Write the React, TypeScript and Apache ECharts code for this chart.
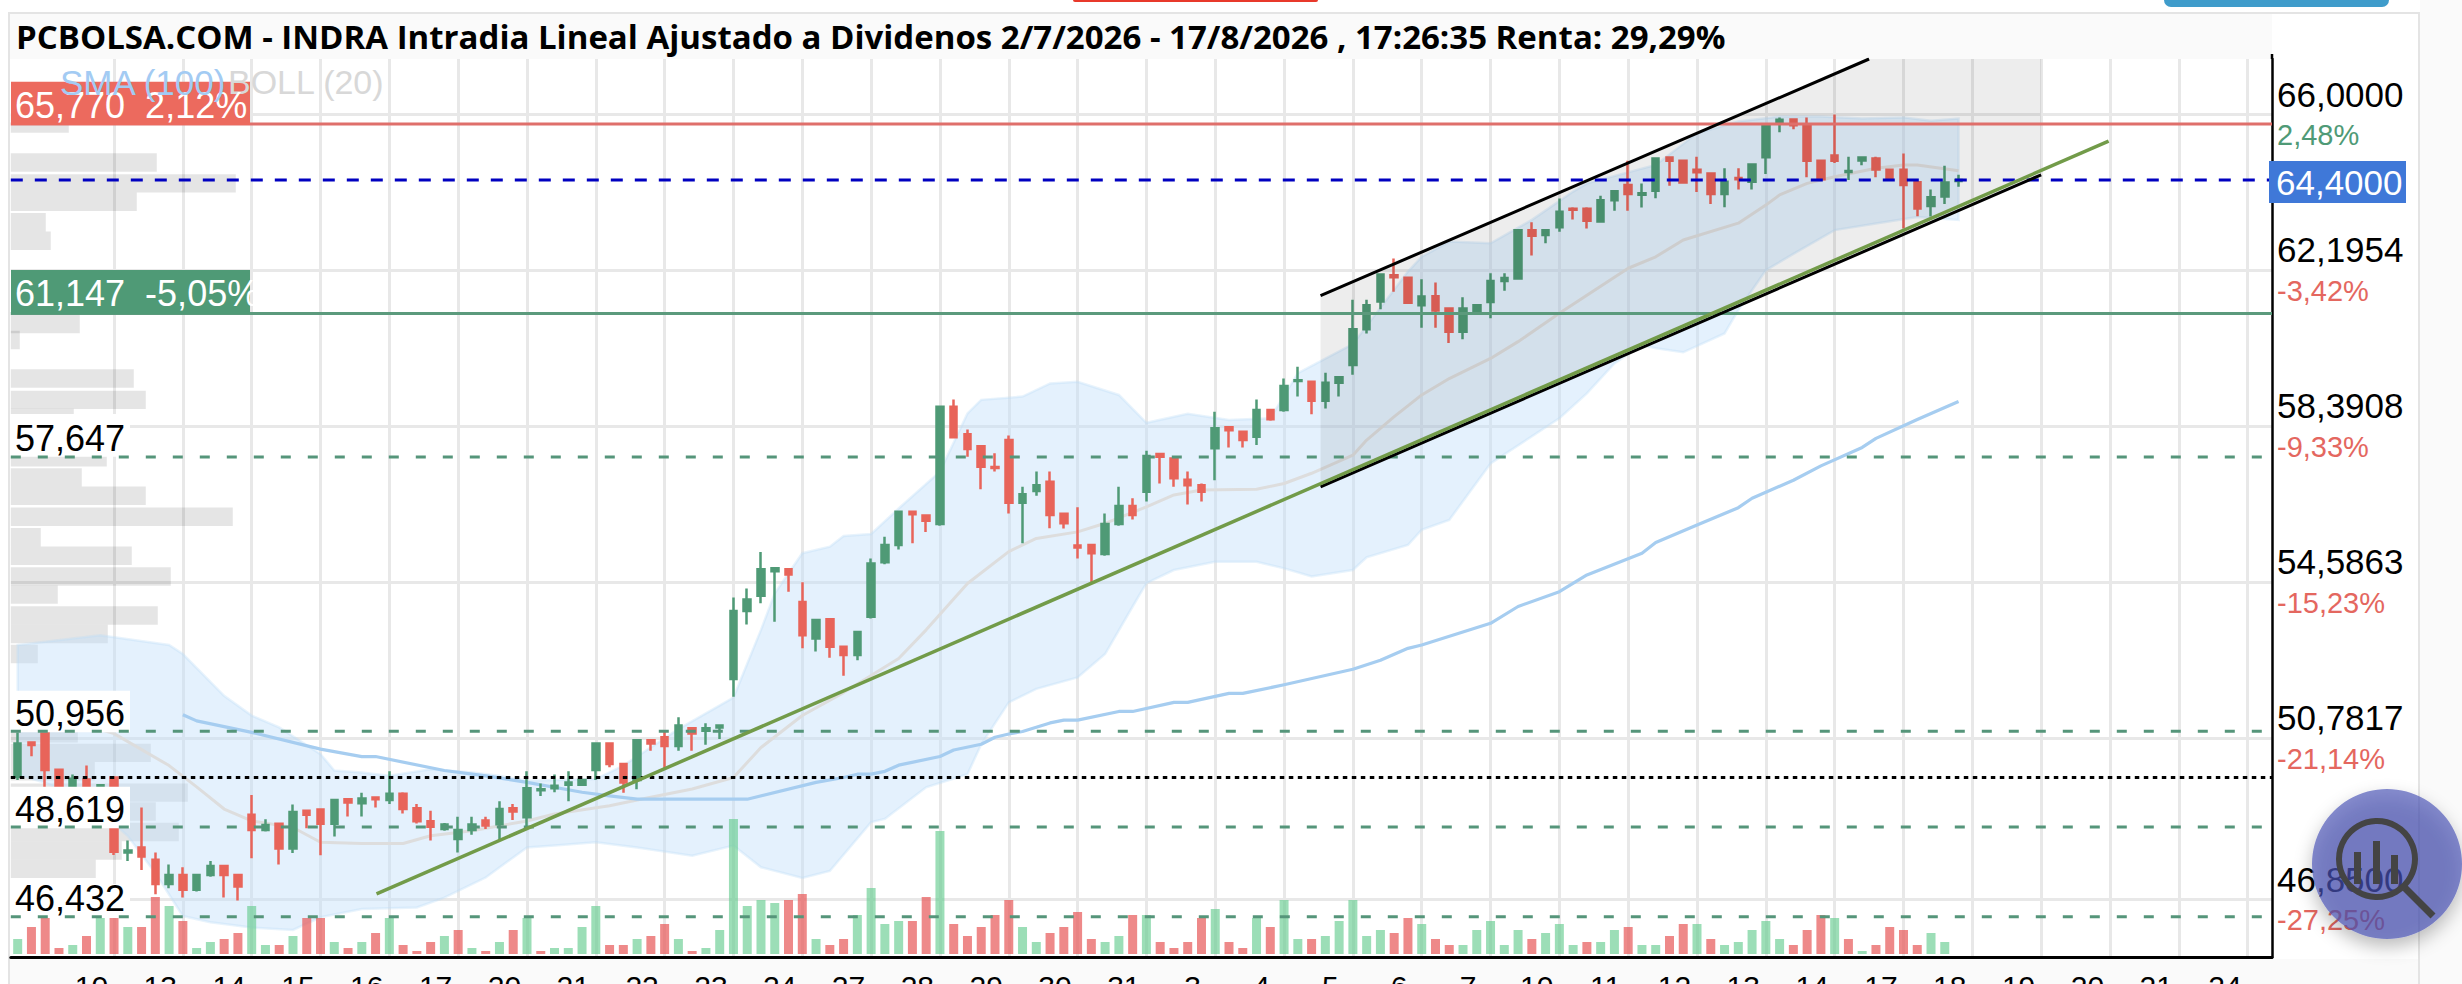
import React, { useEffect, useRef } from "react";
import * as echarts from "echarts";

const titleText = "PCBOLSA.COM - INDRA Intradia Lineal Ajustado a Dividenos 2/7/2026 - 17/8/2026 , 17:26:35 Renta: 29,29%";
const categoryCount = 164;
const categories = Array.from({ length: categoryCount }, (_, i) => String(i));
const opens = [49.85,50.68,50.92,50.02,49.6,49.78,49.62,49.83,48.0,48.12,47.82,47.23,47.45,47.09,47.45,47.67,47.45,48.92,48.55,48.7,48.1,49.02,49.05,48.7,49.3,49.2,49.34,49.28,49.43,49.08,48.76,48.57,48.33,48.55,48.78,48.69,49.08,48.86,49.52,49.57,49.65,49.65,50.01,50.66,50.16,49.77,50.74,50.81,50.6,51.03,50.97,51.05,52.23,53.89,54.26,54.86,54.91,54.11,53.22,53.69,53.02,52.82,53.75,55.08,55.5,56.31,56.22,56.01,58.87,58.2,57.91,57.4,58.06,56.53,56.82,57.04,56.26,55.49,55.5,55.28,56.01,56.45,56.8,57.72,57.61,57.09,56.96,57.86,58.37,58.26,58.14,58.79,58.79,59.5,59.48,59.02,59.46,59.89,60.76,61.44,62.08,62.02,61.35,61.57,61.27,60.7,61.19,61.43,61.94,62.0,63.18,63.06,63.25,63.7,63.7,63.39,63.91,64.28,64.04,64.14,64.95,64.87,64.65,64.56,64.06,64.45,64.36,64.96,65.82,65.88,65.74,64.87,65.0,64.6,64.88,64.93,64.65,64.65,64.35,63.77,64.0,64.38];
const closes = [50.66,50.62,50.01,49.6,49.8,49.6,49.64,48.02,48.05,47.9,47.23,47.45,47.09,47.45,47.67,47.45,47.17,48.55,48.67,48.1,48.99,48.92,48.7,49.28,49.22,49.32,49.3,49.43,49.06,48.76,48.63,48.68,48.55,48.68,48.66,49.06,49.0,49.57,49.54,49.63,49.71,49.77,50.66,50.16,49.71,50.74,50.66,50.6,51.1,50.9,51.03,51.1,53.89,54.17,54.91,54.93,54.78,53.3,53.67,53.02,52.82,53.38,55.05,55.5,56.31,56.25,56.09,58.87,58.13,57.84,57.41,57.38,56.53,56.74,56.96,56.23,56.03,55.44,55.3,56.01,56.45,56.23,57.67,57.65,57.13,56.96,56.8,58.35,58.3,58.06,58.79,58.57,59.38,59.52,59.02,59.46,59.59,60.76,61.35,62.1,62.03,61.41,61.56,61.22,60.7,61.27,61.35,61.94,62.01,63.18,63.04,63.18,63.63,63.68,63.41,63.91,64.13,64.06,64.08,64.93,64.87,64.34,64.59,64.06,64.36,64.42,64.78,65.74,65.87,65.74,64.87,64.42,64.87,64.62,64.95,64.66,64.42,64.28,63.71,63.98,64.34,64.4];
const lows = [49.77,50.35,49.55,49.55,49.55,49.55,49.6,47.94,47.79,47.57,46.98,47.13,46.9,47.05,47.41,46.9,46.83,47.86,48.51,47.71,47.99,48.59,47.93,48.39,48.88,48.88,49.1,49.18,48.95,48.71,48.29,48.53,48.0,48.43,48.57,48.3,48.79,48.63,49.38,49.47,49.25,49.62,49.77,50.08,49.46,49.54,50.48,50.04,50.48,50.48,50.63,50.77,51.8,53.56,54.08,53.63,54.36,52.98,52.9,52.75,52.31,52.69,53.71,55.03,55.39,55.54,55.82,55.97,58.1,57.65,56.86,57.29,56.27,55.54,56.7,55.91,55.9,55.17,54.6,55.24,55.97,56.12,56.56,57.0,56.92,56.49,56.56,57.08,57.88,57.88,57.94,58.53,58.75,59.12,58.69,58.83,59.12,59.65,60.66,61.25,61.68,61.39,60.8,60.8,60.43,60.52,61.11,61.03,61.7,61.98,62.56,62.86,63.14,63.44,63.22,63.36,63.65,63.65,63.73,63.96,64.26,64.31,64.11,63.82,63.74,64.17,64.17,64.55,65.57,65.64,64.47,64.4,64.82,64.4,64.76,64.47,64.4,63.22,63.52,63.51,63.82,64.24];
const highs = [50.93,50.71,50.92,50.05,49.9,50.12,49.65,49.85,48.29,49.1,48.0,47.71,47.64,47.46,47.79,47.68,47.46,49.4,48.81,48.72,49.17,49.03,49.06,49.28,49.3,49.46,49.34,49.98,49.47,49.18,49.02,48.72,48.87,48.87,48.87,49.25,49.18,49.98,49.68,49.9,49.98,49.77,50.66,50.66,50.16,50.74,50.74,50.99,51.3,51.05,51.15,51.1,54.22,54.44,55.33,54.95,54.91,54.59,53.67,53.71,53.04,53.38,55.17,55.7,56.31,56.33,56.22,58.87,59.05,58.32,57.91,57.74,58.17,56.92,57.29,57.29,56.29,56.42,55.5,56.27,56.92,56.64,57.8,57.75,57.61,57.29,57.0,58.75,58.39,58.26,59.05,58.79,59.56,59.85,59.51,59.7,59.59,61.48,61.48,62.1,62.49,62.02,61.98,61.9,61.27,61.54,61.35,62.13,62.13,63.18,63.37,63.18,63.95,63.74,63.74,64.02,64.13,64.87,64.32,64.93,64.97,64.87,64.97,64.56,64.69,64.69,64.78,65.74,65.93,65.88,65.93,64.9,66.0,64.97,64.95,64.97,64.68,65.05,64.35,64.17,64.75,64.53];
const volumes = [5,9,12,2,3,6,12,12,9,9,19,16,11,2,4,5,7,16,3,3,6,12,12,4,2,4,7,12,3,1,4,6,8,2,1,4,8,12,1,2,2,9,16,3,3,5,6,10,5,1,2,8,45,16,18,17,18,20,5,3,5,13,22,10,11,11,19,41,10,6,9,13,18,9,4,7,9,14,5,4,6,13,13,4,2,4,12,15,4,2,12,9,18,5,5,6,11,18,6,8,7,12,10,5,3,3,8,11,3,8,5,7,10,3,4,4,8,9,3,3,6,10,10,5,3,4,8,11,5,3,8,13,12,5,1,3,9,8,3,7,4,null];

const upperIdx = [0,6,11,12,15,17,19,22,23,25,27,30,33,35,37,42,44,48,52,54,55,57,59,60,62,64,67,69,70,73,75,77,80,82,85,88,91,93,97,101,102,104,107,110,113,114,119,122,125,128,131,134,137,139,141];
const upperVal = [53.06,53.3,53.06,52.84,51.82,51.34,51.05,50.4,50.0,49.95,49.87,50.03,49.95,49.87,49.75,49.79,50.12,51.01,51.78,53.43,54.32,55.3,55.46,55.72,55.77,56.39,57.29,58.71,59.04,59.12,59.44,59.48,59.16,58.48,58.7,58.55,58.59,59.69,60.4,62.17,62.53,62.9,62.86,63.43,64.12,64.32,64.77,65.54,65.83,65.95,65.95,65.9,65.93,65.85,65.9];
const lowerIdx = [0,2,4,6,8,10,12,14,17,20,22,25,29,31,34,36,37,39,42,45,49,52,54,57,59,62,63,66,69,70,72,74,77,79,81,82,84,87,90,92,94,97,98,101,102,104,107,112,114,116,118,119,121,124,125,127,129,132,135,138,141];
const lowerVal = [49.9,49.7,49.4,49.0,48.4,47.5,46.45,46.3,46.17,46.11,46.42,46.62,46.66,46.9,47.39,47.88,48.12,48.17,48.25,48.12,47.92,48.17,47.64,47.38,47.55,48.74,48.82,49.59,49.91,50.64,51.66,51.99,52.27,52.84,54.0,54.57,54.89,55.09,55.09,54.93,54.73,54.89,55.2,55.5,55.87,56.11,57.49,58.59,59.2,59.93,60.38,60.3,60.2,60.66,61.23,62.2,62.6,63.18,63.34,63.5,63.43];
const midIdx = [0,3,7,11,13,15,17,20,22,25,28,30,33,37,39,43,45,49,52,54,57,60,64,66,69,72,74,77,79,82,84,86,90,92,94,97,98,100,102,104,107,109,112,117,119,121,125,127,128,130,132,135,137,138,141];
const midVal = [51.5,51.3,50.9,50.12,49.6,49.06,48.77,48.61,48.25,48.22,48.22,48.41,48.53,48.77,48.94,49.14,49.28,49.55,49.83,50.56,51.34,51.9,52.73,53.43,54.56,55.34,55.66,55.82,56.03,56.43,56.72,56.84,56.86,57.0,57.25,57.69,58.06,58.63,59.16,59.56,60.05,60.46,61.15,62.25,62.53,62.94,63.35,63.79,64.04,64.32,64.48,64.69,64.77,64.77,64.63];
const smaIdx = [12,13,17,22,25,26,31,34,37,41,43,45,53,58,60,61,62,63,64,67,68,70,71,72,73,75,76,77,80,81,84,85,88,89,92,97,99,101,102,107,109,112,114,118,119,122,125,126,129,131,134,135,138,141];
const smaVal = [51.36,51.21,50.93,50.52,50.34,50.34,50.0,49.87,49.71,49.47,49.38,49.3,49.3,49.71,49.83,49.91,49.91,49.98,50.13,50.34,50.5,50.64,50.81,50.89,50.95,51.16,51.23,51.23,51.44,51.44,51.66,51.66,51.88,51.88,52.09,52.47,52.69,52.98,53.06,53.59,54.0,54.36,54.77,55.3,55.56,55.99,56.41,56.64,57.08,57.43,57.88,58.1,58.56,59.0];

const profilePrices = [65.78,64.83,64.32,63.87,63.37,62.92,60.89,60.5,59.56,59.04,58.6,57.64,57.15,56.7,56.19,55.69,55.24,54.73,54.29,53.78,53.33,52.84,50.91,50.43,49.98,49.46,49.0,48.5,48.05,47.6];
const profileVolumes = [58,146,225,126,35,40,69,9,123,135,63,96,71,135,222,30,121,160,47,147,97,27,67,140,84,177,145,168,111,85];

const gridTicks = [7,12,17,22,27,32,37,42,47,52,57,62,67,72,77,82,87,92,97,102,107,112,117,122,127,132,137,142,147,152,157,162];
const dayLabels = ["10","13","14","15","16","17","20","21","22","23","24","27","28","29","30","31","3","4","5","6","7","10","11","12","13","14","17","18","19","20","21","24"];
const yTicks = [66,62.1954,58.3908,54.5863,50.7817,46.85];
const yTickLabels = ["66,0000","62,1954","58,3908","54,5863","50,7817","46,8500"];
const yTickPct = ["2,48%","-3,42%","-9,33%","-15,23%","-21,14%","-27,25%"];

const trendX = [26.07,151.9];
const trendY = [46.99,65.35];
const channelUpX = [94.65,134.5];
const channelUpY = [61.58,67.354];
const channelLowX = [94.65,147.0];
const channelLowY = [56.92,64.53];

const priceMin = 45.451, priceMax = 67.354;
const currentPrice = 64.4, resistance = 65.77, support = 61.147, basePrice = 49.83;
const dashedLevels = [57.647,50.956,48.619,46.432];

const GREEN = "#4f9a76", RED = "#e8645a";
const SANS = '"Liberation Sans"';

const nearest = (arr: number[], v: number) => {
  let best = 0;
  arr.forEach((a, i) => { if (Math.abs(a - v) < Math.abs(arr[best] - v)) best = i; });
  return best;
};

function hLine(v: number, color: string, type: any, width: number, z: number) {
  return { type: "line", xAxisIndex: 1, yAxisIndex: 2, data: [[-0.5, v],[163.77, v]], symbol: "none", silent: true, z,
    lineStyle: { color, type, width } };
}
function polyLine(xs: number[], ys: number[], color: string, width: number, z: number) {
  return { type: "line", xAxisIndex: 1, yAxisIndex: 2, data: xs.map((x, i) => [x, ys[i]]), symbol: "none", silent: true, z,
    lineStyle: { color, width, cap: "butt", join: "round" } };
}
function rect(x: number, y: number, w: number, h: number, fill: string, z: number, r?: any) {
  return { type: "rect", z, silent: true, shape: { x, y, width: w, height: h, r: r || 0 }, style: { fill } };
}
function txt(text: string, x: number, y: number, size: number, fill: string, z: number, family = SANS, weight: any = "normal", align: any = "left") {
  return { type: "text", z, silent: true, x, y, style: { text, fill, fontSize: size, fontFamily: family, fontWeight: weight, verticalAlign: "middle", align } };
}

export default function App() {
  const ref = useRef<HTMLDivElement>(null);
  useEffect(() => {
    document.body.style.margin = "0";
    const chart = echarts.init(ref.current!, null, { renderer: "svg" });
    const L = 10.8, T = 59, H = 898, W0 = 13.765 * categoryCount, W1 = 2261.2;
    const barData = volumes.map((v, i) => ({
      value: v,
      itemStyle: { color: i > 0 && closes[i] < closes[i - 1] ? "rgba(232,92,92,0.72)" : "rgba(105,205,145,0.66)" },
    }));
    const hiddenY = (gridIndex: number) => ({ type: "value", gridIndex, min: priceMin, max: priceMax, show: false });
    const xLabelPos = gridTicks.map((t) => t - 1.64);
    chart.setOption({
      animation: false,
      backgroundColor: "#ffffff",
      textStyle: { fontFamily: SANS },
      grid: [
        { left: L, top: T, width: W0, height: H, outerBoundsMode: "none" },
        { left: L, top: T, width: W1, height: H, outerBoundsMode: "none" },
        { left: L, top: T, width: W1, height: H, outerBoundsMode: "none" },
      ],
      xAxis: [
        { type: "category", gridIndex: 0, data: categories, boundaryGap: true, show: false },
        { type: "value", gridIndex: 1, min: -0.5, max: 163.77, position: "bottom", z: 1,
          axisLine: { show: true, onZero: false, lineStyle: { color: "#000", width: 3 } },
          axisTick: { show: false, customValues: gridTicks },
          splitLine: { show: true, lineStyle: { color: "#e8e8e8", width: 3 } },
          axisLabel: { show: true, customValues: xLabelPos, margin: 14, fontSize: 30, color: "#000", fontFamily: SANS,
            showMinLabel: true, showMaxLabel: true, hideOverlap: false,
            formatter: (v: number) => dayLabels[nearest(xLabelPos, v)] },
        },
        { type: "value", gridIndex: 2, min: 0, max: W1, show: false },
      ],
      yAxis: [
        hiddenY(0),
        { type: "value", gridIndex: 0, min: -1, max: 298.33, show: false },
        { type: "value", gridIndex: 1, min: priceMin, max: priceMax, position: "right", z: 1,
          axisLine: { show: true, onZero: false, lineStyle: { color: "#000", width: 2.5 } },
          axisTick: { show: false, customValues: yTicks },
          splitLine: { show: true, lineStyle: { color: "#e8e8e8", width: 3 } },
          axisLabel: { show: true, customValues: yTicks, margin: 5, align: "left", verticalAlign: "middle",
            formatter: (v: number) => {
              const i = nearest(yTicks, v);
              return `{a|${yTickLabels[i]}}\n{${yTickPct[i].charAt(0) === "-" ? "r" : "g"}|${yTickPct[i]}}`;
            },
            rich: {
              a: { fontSize: 35, color: "#000", lineHeight: 41, fontFamily: SANS },
              r: { fontSize: 29, color: "#e4675f", lineHeight: 41, fontFamily: SANS },
              g: { fontSize: 29, color: "#4f9a76", lineHeight: 41, fontFamily: SANS },
            },
          },
        },
        hiddenY(2),
      ],
      series: [
        { type: "custom", xAxisIndex: 2, yAxisIndex: 3, z: 2, silent: true,
          data: profilePrices.map((p, i) => [profileVolumes[i], p]),
          renderItem: (_: any, api: any) => {
            const a = api.coord([0, api.value(1) + 0.225]);
            const b = api.coord([api.value(0), api.value(1) - 0.225]);
            return { type: "rect", shape: { x: a[0], y: a[1], width: b[0] - a[0], height: b[1] - a[1] }, style: { fill: "rgba(0,0,0,0.1)" } };
          } },
        { type: "custom", xAxisIndex: 1, yAxisIndex: 2, z: 2, silent: true, clip: true, data: [[0, 50]],
          renderItem: (_: any, api: any) => {
            const pts = [
              ...upperIdx.map((x, i) => api.coord([x, upperVal[i]])),
              ...lowerIdx.map((x, i) => api.coord([x, lowerVal[i]])).reverse(),
            ];
            return { type: "polygon", shape: { points: pts }, style: { fill: "rgba(190,222,250,0.42)", stroke: "rgba(190,220,245,0.35)", lineWidth: 2.5 } };
          } },
        polyLine(midIdx, midVal, "#dddddd", 3, 3),
        polyLine(smaIdx, smaVal, "#a6cdf0", 3.2, 3),
        { type: "bar", xAxisIndex: 0, yAxisIndex: 1, z: 3, barWidth: 9, silent: true, data: barData },
        { type: "candlestick", xAxisIndex: 0, yAxisIndex: 0, z: 4, silent: true, barWidth: 7,
          data: opens.map((o, i) => [o, closes[i], lows[i], highs[i]]),
          itemStyle: { color: GREEN, color0: RED, borderColor: GREEN, borderColor0: RED, borderWidth: 2.5 } },
        { type: "custom", xAxisIndex: 1, yAxisIndex: 2, z: 5, silent: true, data: [[0, 50]],
          renderItem: (_: any, api: any) => {
            const pts = [
              [channelUpX[0], channelUpY[0]], [channelUpX[1], channelUpY[1]], [channelLowX[1], channelUpY[1]],
              [channelLowX[1], channelLowY[1]], [channelLowX[0], channelLowY[0]],
            ].map((p) => api.coord(p));
            return { type: "polygon", shape: { points: pts }, style: { fill: "rgba(0,0,0,0.07)" } };
          } },
        hLine(resistance, "#df6f6b", "solid", 3, 7),
        hLine(support, "#5b9a7c", "solid", 3, 7),
        hLine(currentPrice, "#0000c0", [12, 12], 3, 7),
        hLine(basePrice, "#000", [4.5, 4.5], 3, 7),
        ...dashedLevels.map((v) => hLine(v, "#55957a", [10, 17], 3, 7)),
        polyLine(channelUpX, channelUpY, "#000", 3, 7),
        polyLine(channelLowX, channelLowY, "#000", 3, 7),
        polyLine(trendX, trendY, "#729b49", 3.5, 8),
      ],
      graphic: [
        { type: "group", silent: true, children: [
          rect(8, 12, 2412, 2, "#e4e4e4", -1),
          rect(8, 12, 2, 972, "#e4e4e4", -1),
          rect(2418, 12, 2, 972, "#e4e4e4", -1),
          rect(2420, 0, 42, 984, "#fafafa", -1),
          rect(10, 14, 2262, 45, "#fafafa", -1),
          rect(10, 959, 2408, 25, "#fafafa", -1),
          rect(2164, 0, 225, 7, "#3f9ccb", -1, [0, 0, 8, 8]),
          rect(1073, 0, 245, 2, "#e8392b", -1, [0, 0, 2, 2]),
          { type: "line", z: 1, silent: true, shape: { x1: 2272, y1: 54, x2: 2272, y2: 59 }, style: { stroke: "#000", lineWidth: 2.5 } },
          txt(titleText, 16, 36, 33, "#000", 20, '"Open Sans"', "bold"),

          rect(10, 690.7, 120, 41.5, "#fff", 6),
          rect(10, 786.7, 120, 41.5, "#fff", 6),
          rect(10, 884, 120, 34, "#fff", 6),
          rect(10, 414, 120, 42.7, "#fff", 6),
          txt("50,956", 15, 713, 36, "#000", 20),
          txt("48,619", 15, 809, 36, "#000", 20),
          txt("46,432", 15, 898, 36, "#000", 20),
          txt("57,647", 15, 438, 36, "#000", 20),

          rect(11, 81.7, 239, 43.3, "#ec6a5e", 9),
          rect(11, 270, 239, 44, "#4f9a76", 9),
          txt("65,770  2,12%", 15, 105, 36, "#fff", 20),
          txt("61,147  -5,05%", 15, 293, 36, "#fff", 20),
          txt("SMA (100)", 60, 82, 35, "#a3cbf3", 21),
          txt("BOLL (20)", 228, 82, 34, "#d8d8d8", 10),

          rect(2269, 161, 137, 42, "#3f78d8", 9),
          txt("64,4000", 2276, 182, 35, "#fff", 20),

          { type: "circle", z: 30, silent: true, shape: { cx: 2387, cy: 864, r: 75 },
            style: { fill: "rgba(72,80,180,0.66)", shadowBlur: 18, shadowColor: "rgba(0,0,0,0.4)", shadowOffsetY: 8 } },
          { type: "circle", z: 31, silent: true, shape: { cx: 2377, cy: 859, r: 38 }, style: { fill: "none", stroke: "#444", lineWidth: 6 } },
          { type: "line", z: 31, silent: true, shape: { x1: 2405, y1: 888, x2: 2433, y2: 916 }, style: { stroke: "#444", lineWidth: 7 } },
          rect(2354, 852, 7, 32, "#444", 31),
          rect(2373, 841, 7, 43, "#444", 31),
          rect(2391, 855, 7, 29, "#444", 31),
        ] },
      ],
    });
    return () => chart.dispose();
  }, []);
  return <div ref={ref} style={{ width: 2462, height: 984, overflow: "hidden" }} />;
}
